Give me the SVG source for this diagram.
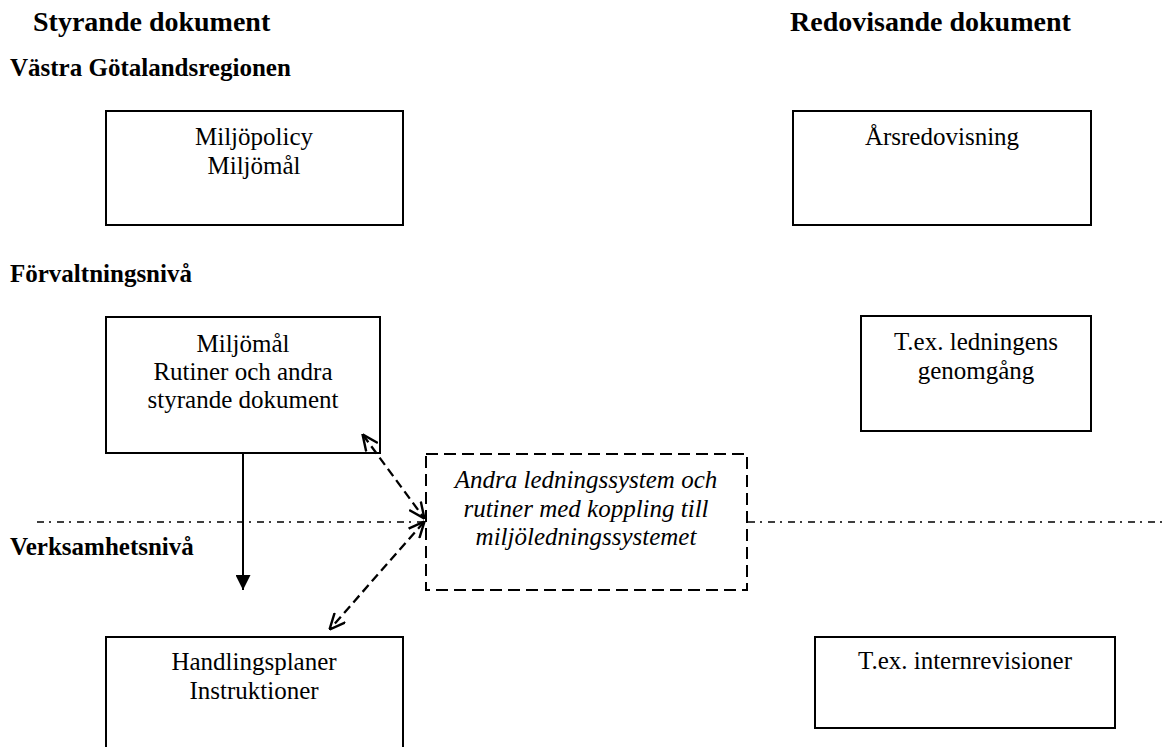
<svg xmlns="http://www.w3.org/2000/svg" width="1162" height="747" viewBox="0 0 1162 747">
<style>
text{font-family:"Liberation Serif","Times New Roman",serif;fill:#000}
.h{font-size:28px;font-weight:bold}
.l{font-size:25px;font-weight:bold}
.t{font-size:25px;text-anchor:middle}
.i{font-size:25px;font-style:italic;text-anchor:middle}
.box{fill:#fff;stroke:#000;stroke-width:2}
.dbox{fill:#fff;stroke:#000;stroke-width:2;stroke-dasharray:12 6}
.sep{stroke:#000;stroke-width:1.5;stroke-dasharray:7 5 2 6;fill:none}
.dash{stroke:#000;stroke-width:2.3;stroke-dasharray:9 5;fill:none}
</style>
<defs>
<marker id="open" viewBox="0 0 10 10" refX="9.5" refY="5" markerWidth="17" markerHeight="16" markerUnits="userSpaceOnUse" orient="auto-start-reverse">
<path d="M0,0.5 L10,5 L0,9.5" fill="none" stroke="#000" stroke-width="1.5" stroke-dasharray="none"/>
</marker>
<marker id="solid" viewBox="0 0 10 10" refX="10" refY="5" markerWidth="18" markerHeight="15" markerUnits="userSpaceOnUse" orient="auto">
<path d="M0,0 L10,5 L0,10 Z" fill="#000"/>
</marker>
</defs>

<g id="labels">
<text class="h" x="33" y="31">Styrande dokument</text>
<text class="h" x="790" y="31">Redovisande dokument</text>
<text class="l" x="10" y="76">Västra Götalandsregionen</text>
<text class="l" x="10" y="282">Förvaltningsnivå</text>
<text class="l" x="10" y="555">Verksamhetsnivå</text>
</g>

<g id="separator">
<line class="sep" x1="37" y1="522" x2="426" y2="522"/>
<line class="sep" x1="748" y1="522" x2="1162" y2="522"/>
</g>

<g id="node-miljopolicy">
<rect class="box" x="106" y="111" width="297" height="114"/>
<text class="t" x="254" y="145">Miljöpolicy</text>
<text class="t" x="254" y="174">Miljömål</text>
</g>

<g id="node-arsredovisning">
<rect class="box" x="793" y="111" width="298" height="114"/>
<text class="t" x="942" y="145">Årsredovisning</text>
</g>

<g id="node-miljomal">
<rect class="box" x="106" y="317" width="274" height="136"/>
<text class="t" x="243" y="352">Miljömål</text>
<text class="t" x="243" y="380">Rutiner och andra</text>
<text class="t" x="243" y="408">styrande dokument</text>
</g>

<g id="node-ledningens">
<rect class="box" x="861" y="316" width="230" height="115"/>
<text class="t" x="976" y="350">T.ex. ledningens</text>
<text class="t" x="976" y="379">genomgång</text>
</g>

<g id="node-andra">
<rect class="dbox" x="426" y="454" width="321" height="136"/>
<text class="i" x="586" y="488">Andra ledningssystem och</text>
<text class="i" x="586" y="517">rutiner med koppling till</text>
<text class="i" x="586" y="545">miljöledningssystemet</text>
</g>

<g id="node-handlingsplaner">
<rect class="box" x="106" y="637" width="297" height="130"/>
<text class="t" x="254" y="670">Handlingsplaner</text>
<text class="t" x="254" y="699">Instruktioner</text>
</g>

<g id="node-internrevisioner">
<rect class="box" x="815" y="637" width="300" height="91"/>
<text class="t" x="965" y="669">T.ex. internrevisioner</text>
</g>

<g id="connectors">
<line x1="243" y1="453" x2="243" y2="590" stroke="#000" stroke-width="2" marker-end="url(#solid)"/>
<line class="dash" x1="363" y1="435" x2="424" y2="518" marker-start="url(#open)" marker-end="url(#open)"/>
<line class="dash" x1="424" y1="522" x2="330" y2="629" marker-start="url(#open)" marker-end="url(#open)"/>
</g>
</svg>
